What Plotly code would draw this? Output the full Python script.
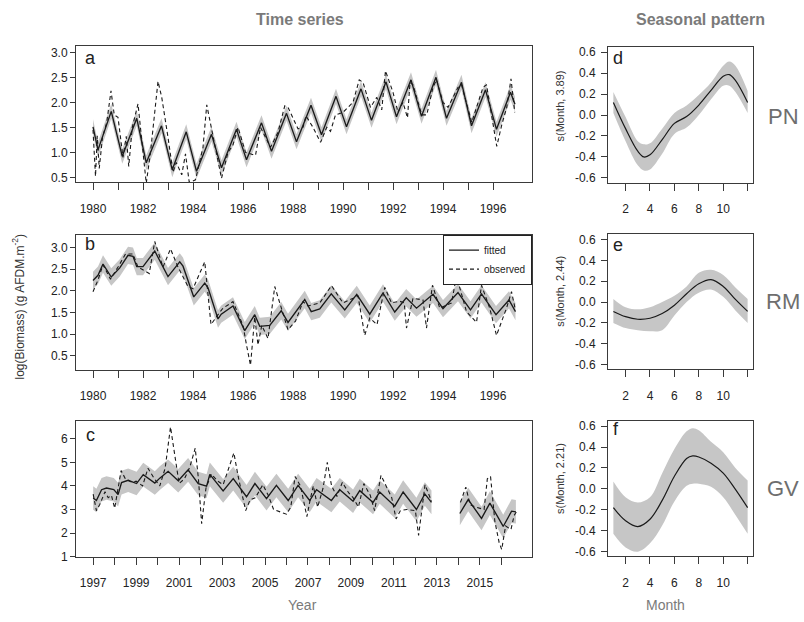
import plotly.graph_objects as go

# ---------------- data ----------------
# Panel a (PN) time series
a_fit_t = [1980.0, 1980.2, 1980.73, 1981.17, 1981.75, 1982.13, 1982.74, 1983.17, 1983.73, 1984.14,
           1984.74, 1985.14, 1985.74, 1986.14, 1986.74, 1987.14, 1987.74, 1988.14, 1988.72, 1989.14,
           1989.72, 1990.14, 1990.72, 1991.14, 1991.72, 1992.14, 1992.72, 1993.14, 1993.72, 1994.14,
           1994.74, 1995.14, 1995.7, 1996.14, 1996.7, 1996.88]
a_fit_v = [1.51, 1.05, 1.82, 0.92, 1.68, 0.79, 1.53, 0.65, 1.41, 0.62,
           1.36, 0.69, 1.46, 0.85, 1.59, 1.02, 1.78, 1.21, 1.94, 1.35,
           2.12, 1.51, 2.27, 1.64, 2.41, 1.71, 2.45, 1.72, 2.50, 1.68,
           2.40, 1.53, 2.25, 1.46, 2.20, 1.96]
a_obs_t = [1980.0, 1980.1, 1980.17, 1980.25, 1980.38, 1980.55, 1980.72, 1980.85, 1981.0, 1981.2,
           1981.33, 1981.43, 1981.57, 1981.8, 1982.13, 1982.3, 1982.6, 1982.75, 1983.0, 1983.2,
           1983.33, 1983.55, 1983.7, 1983.85, 1984.1, 1984.4, 1984.55, 1984.8, 1985.14, 1985.4,
           1985.6, 1985.8, 1986.1, 1986.5, 1986.7, 1987.1, 1987.4, 1987.67, 1987.8, 1988.2,
           1988.4, 1988.52, 1988.8, 1989.1, 1989.35, 1989.5, 1989.7, 1990.0, 1990.4, 1990.65,
           1990.8, 1991.1, 1991.35, 1991.55, 1991.7, 1992.0, 1992.2, 1992.4, 1992.58, 1992.68,
           1992.8, 1993.15, 1993.35, 1993.6, 1993.74, 1994.0, 1994.2, 1994.6, 1994.74, 1995.15,
           1995.6, 1995.74, 1996.15, 1996.35, 1996.55, 1996.72, 1996.87]
a_obs_v = [1.45, 0.52, 1.33, 0.68, 1.3, 1.6, 2.23, 1.75, 1.7, 0.9,
           1.32, 0.72, 1.5, 1.97, 0.38, 1.0, 2.42, 2.1, 1.3, 0.6,
           0.8, 0.55, 0.97, 0.4, 0.45, 1.1, 1.95, 1.3, 0.48, 1.0,
           1.15, 1.5, 1.0, 0.94, 1.5, 1.1, 1.4, 1.93, 1.9, 1.47,
           1.5, 1.73, 1.5, 1.2, 1.5, 1.42, 1.75, 1.8, 2.0, 2.45,
           2.4, 1.9, 2.1, 1.85, 2.63, 2.2, 1.8, 2.0, 1.69, 2.4,
           2.35, 1.75, 1.75, 2.3, 2.45, 2.0, 1.9, 2.3, 2.35, 1.6,
           2.3, 2.35, 1.12, 1.55, 1.9, 2.47, 1.8]
a_halfwidth = 0.15

# Panel b (RM) time series
b_fit_t = [1980.0, 1980.2, 1980.4, 1980.73, 1981.07, 1981.4, 1981.6, 1981.75, 1982.0, 1982.47,
           1983.0, 1983.47, 1983.6, 1984.03, 1984.47, 1984.6, 1985.0, 1985.13, 1985.6, 1986.07,
           1986.47, 1986.67, 1987.07, 1987.53, 1987.8, 1988.47, 1988.73, 1989.07, 1989.53, 1990.07,
           1990.55, 1991.07, 1991.6, 1992.07, 1992.53, 1992.94, 1993.6, 1994.0, 1994.6, 1995.1,
           1995.54, 1996.12, 1996.64, 1996.9]
b_fit_v = [2.24, 2.36, 2.62, 2.32, 2.53, 2.82, 2.80, 2.56, 2.56, 2.92,
           2.33, 2.67, 2.57, 1.86, 2.18, 2.07, 1.35, 1.46, 1.65, 1.08,
           1.45, 1.18, 1.20, 1.54, 1.27, 1.80, 1.52, 1.58, 1.93, 1.56,
           1.92, 1.46, 1.95, 1.51, 1.84, 1.60, 1.92, 1.59, 1.96, 1.56,
           1.93, 1.45, 1.79, 1.52]
b_obs_t = [1980.0, 1980.2, 1980.4, 1980.7, 1981.0, 1981.3, 1981.6, 1981.8, 1982.1, 1982.25,
           1982.47, 1982.8, 1983.1, 1983.4, 1983.8, 1984.0, 1984.47, 1984.72, 1985.0, 1985.2,
           1985.6, 1986.0, 1986.15, 1986.3, 1986.47, 1986.6, 1986.75, 1987.0, 1987.27, 1987.6,
           1987.8, 1988.1, 1988.4, 1988.6, 1989.07, 1989.54, 1990.0, 1990.6, 1990.87, 1991.07,
           1991.36, 1991.67, 1991.94, 1992.27, 1992.45, 1992.54, 1992.8, 1993.2, 1993.34, 1993.58,
           1993.87, 1994.34, 1994.54, 1994.94, 1995.34, 1995.54, 1995.87, 1996.14, 1996.54, 1996.74,
           1996.9]
b_obs_v = [1.98, 2.25, 2.6, 2.27, 2.55, 2.85, 2.85, 2.55, 2.45, 2.4,
           3.14, 2.55, 2.97, 2.55, 2.1, 2.05, 2.67, 1.22, 1.45, 1.6,
           1.75, 1.2, 0.72, 0.28, 1.4, 0.75, 1.2, 0.9, 2.1, 1.5,
           1.1, 1.3, 1.75, 1.65, 1.72, 2.12, 1.72, 1.88, 0.97, 1.37,
           1.22, 2.08, 1.72, 1.76, 1.72, 1.14, 1.83, 1.79, 1.14, 2.13,
           1.6, 1.72, 2.34, 1.52, 1.27, 2.13, 1.6, 0.97, 1.6, 1.98,
           1.55]
b_halfwidth = 0.2

# Panel c (GV) time series (None = sampling gap)
c_fit_t = [1997.0, 1997.15, 1997.39, 1997.62, 1997.96, 1998.16, 1998.32, 1998.63, 1999.02, 1999.33,
           1999.87, 2000.1, 2000.49, 2000.96, 2001.42, 2001.89, 2002.28, 2002.43, 2003.05, 2003.52,
           2004.14, 2004.53, 2005.07, 2005.53, 2006.08, 2006.54, 2007.08, 2007.4, 2008.09, 2008.48,
           2009.1, 2009.41, 2010.03, 2010.34, 2011.04, 2011.43, 2012.05, 2012.44, 2012.75, None,
           2014.07, 2014.46, 2015.08, 2015.47, 2016.09, 2016.48, 2016.68]
c_fit_v = [3.49, 3.38, 3.84, 3.91, 3.84, 3.63, 4.14, 4.24, 4.10, 4.48,
           4.12, 4.33, 4.62, 4.22, 4.68, 4.10, 3.99, 4.49, 3.79, 4.31,
           3.54, 4.10, 3.46, 4.02, 3.38, 4.02, 3.38, 3.84, 3.38, 3.84,
           3.35, 3.80, 3.30, 3.74, 3.14, 3.74, 3.00, 3.66, 3.30, None,
           2.83, 3.42, 2.62, 3.27, 2.28, 2.93, 2.90]
c_obs_t = [1997.0, 1997.15, 1997.3, 1997.55, 1997.7, 1997.85, 1998.0, 1998.3, 1998.5, 1998.8,
           1999.0, 1999.3, 1999.55, 1999.85, 2000.1, 2000.35, 2000.6, 2000.8, 2001.0, 2001.25,
           2001.5, 2001.75, 2001.9, 2002.05, 2002.25, 2002.5, 2002.8, 2003.05, 2003.35, 2003.55,
           2003.75, 2004.1, 2004.3, 2004.55, 2004.9, 2005.15, 2005.4, 2005.7, 2006.0, 2006.2,
           2006.4, 2006.65, 2006.95, 2007.1, 2007.25, 2007.45, 2007.7, 2007.9, 2008.1, 2008.35,
           2008.6, 2008.9, 2009.1, 2009.35, 2009.6, 2009.9, 2010.1, 2010.4, 2010.65, 2010.9,
           2011.1, 2011.3, 2011.6, 2012.0, 2012.15, 2012.3, 2012.45, 2012.75, None,
           2014.1, 2014.35, 2014.55, 2014.8, 2015.2, 2015.35, 2015.5, 2015.7, 2015.9, 2016.02,
           2016.2, 2016.45, 2016.6, 2016.7]
c_obs_v = [3.65, 2.95, 3.2, 3.75, 3.5, 3.6, 3.05, 4.65, 4.3, 4.15,
           4.2, 4.0, 4.75, 4.3, 4.0, 4.75, 6.5, 5.3, 4.1, 4.3,
           4.8, 5.6, 4.3, 2.4, 3.9, 4.5, 4.2, 4.05, 4.9, 5.4,
           4.4, 2.95, 3.4, 3.5, 4.05, 3.6, 3.0, 2.9, 2.8, 3.1,
           4.4, 4.0, 2.7, 3.4, 4.0, 3.1, 3.9, 5.0, 4.0, 3.55,
           4.15, 3.7, 3.5, 3.1, 4.1, 3.6, 2.95, 4.45, 4.0, 3.5,
           2.6, 2.95, 3.0, 2.95, 1.9, 3.1, 4.05, 3.35, None,
           3.3, 3.95, 3.2, 3.1, 3.0, 4.3, 4.4, 2.5, 1.6, 1.3,
           2.3, 2.15, 2.75, 2.9]
c_halfwidth = 0.5

# Seasonal smooths
d_month = [1, 2, 3, 3.5, 4, 5, 6, 7, 8, 9, 10, 10.5, 11, 12]
d_fit = [0.12, -0.13, -0.345, -0.40, -0.38, -0.235, -0.08, -0.015, 0.095, 0.235, 0.37, 0.385, 0.33, 0.12]
d_up = [0.22, -0.02, -0.25, -0.28, -0.27, -0.13, 0.02, 0.09, 0.19, 0.31, 0.47, 0.51, 0.47, 0.23]
d_lo = [0.02, -0.25, -0.48, -0.53, -0.52, -0.37, -0.18, -0.12, 0.0, 0.15, 0.28, 0.28, 0.22, 0.02]

e_month = [1, 2, 3, 4, 5, 6, 7, 8, 9, 10, 11, 12]
e_fit = [-0.09, -0.14, -0.165, -0.155, -0.11, -0.03, 0.08, 0.175, 0.215, 0.15, 0.025, -0.09]
e_up = [0.03, -0.05, -0.07, -0.05, 0.0, 0.06, 0.15, 0.28, 0.31, 0.26, 0.14, 0.03]
e_lo = [-0.2, -0.25, -0.27, -0.28, -0.27, -0.13, 0.0, 0.09, 0.12, 0.05, -0.08, -0.2]

f_month = [1, 2, 3, 4, 5, 6, 7, 7.5, 8, 9, 10, 11, 12]
f_fit = [-0.18, -0.305, -0.36, -0.29, -0.11, 0.12, 0.29, 0.315, 0.305, 0.245, 0.15, -0.005, -0.18]
f_up = [0.07, -0.08, -0.13, -0.08, 0.15, 0.38, 0.55, 0.58, 0.56, 0.45, 0.35, 0.2, 0.08]
f_lo = [-0.43, -0.56, -0.6, -0.52, -0.35, -0.12, 0.03, 0.05, 0.05, 0.02, -0.08, -0.25, -0.43]

edf_labels = ["s(Month, 3.89)", "s(Month, 2.44)", "s(Month, 2.21)"]
site_labels = ["PN", "RM", "GV"]
panel_letters = ["a", "b", "c", "d", "e", "f"]

# ---------------- style ----------------
FONT = "Liberation Sans, Arial, Helvetica, sans-serif"
BAND = "#c6c6c6"
LINE = "#1a1a1a"
AX = "#3a3a3a"
TXT = "#222222"
GREY = "#7a7a7a"
W, H = 804, 622


def px_x(p):
    return p / W


def px_y(p):
    return 1 - p / H


fig = go.Figure()


def segments(t, v):
    segs, ct, cv = [], [], []
    for a, b in zip(t, v):
        if a is None:
            if ct:
                segs.append((ct, cv))
            ct, cv = [], []
        else:
            ct.append(a)
            cv.append(b)
    if ct:
        segs.append((ct, cv))
    return segs


def add_ts(t_fit, v_fit, t_obs, v_obs, hw, xa, ya, legend=False):
    for st, sv in segments(t_fit, v_fit):
        fig.add_trace(go.Scatter(x=st, y=[v - hw for v in sv], mode="lines", line=dict(width=0),
                                 showlegend=False, hoverinfo="skip", xaxis=xa, yaxis=ya))
        fig.add_trace(go.Scatter(x=st, y=[v + hw for v in sv], mode="lines", line=dict(width=0),
                                 fill="tonexty", fillcolor=BAND, showlegend=False, hoverinfo="skip",
                                 xaxis=xa, yaxis=ya))
    fig.add_trace(go.Scatter(x=t_obs, y=v_obs, mode="lines", name="observed",
                             line=dict(color=LINE, width=1.1, dash="4px,3px"),
                             showlegend=legend, legendrank=2, xaxis=xa, yaxis=ya))
    fig.add_trace(go.Scatter(x=t_fit, y=v_fit, mode="lines", name="fitted",
                             line=dict(color=LINE, width=1.35),
                             showlegend=legend, legendrank=1, xaxis=xa, yaxis=ya))


def add_season(m, fit, up, lo, xa, ya):
    fig.add_trace(go.Scatter(x=m, y=lo, mode="lines", line=dict(width=0, shape="spline"),
                             showlegend=False, hoverinfo="skip", xaxis=xa, yaxis=ya))
    fig.add_trace(go.Scatter(x=m, y=up, mode="lines", line=dict(width=0, shape="spline"),
                             fill="tonexty", fillcolor=BAND, showlegend=False, hoverinfo="skip",
                             xaxis=xa, yaxis=ya))
    fig.add_trace(go.Scatter(x=m, y=fit, mode="lines", line=dict(color=LINE, width=1.2, shape="spline"),
                             showlegend=False, xaxis=xa, yaxis=ya))


add_ts(a_fit_t, a_fit_v, a_obs_t, a_obs_v, a_halfwidth, "x", "y")
add_ts(b_fit_t, b_fit_v, b_obs_t, b_obs_v, b_halfwidth, "x2", "y2", legend=True)
add_ts(c_fit_t, c_fit_v, c_obs_t, c_obs_v, c_halfwidth, "x3", "y3")
add_season(d_month, d_fit, d_up, d_lo, "x4", "y4")
add_season(e_month, e_fit, e_up, e_lo, "x5", "y5")
add_season(f_month, f_fit, f_up, f_lo, "x6", "y6")

# ---------------- axes ----------------
left_x = [px_x(76), px_x(532)]
right_x = [px_x(608), px_x(753)]
rows = [(45, 183), (236, 373), (425, 563)]
rows_r = [(45.5, 183.3), (235.7, 372.7), (425, 562.5)]

tick_font = dict(family=FONT, size=12, color=TXT)


def xax(domain, anchor, rng, vals, text):
    return dict(domain=domain, anchor=anchor, range=rng, tickvals=vals, ticktext=text,
                showline=True, mirror=True, linecolor=AX, linewidth=1, ticks="outside",
                ticklen=7, tickcolor=AX, tickwidth=1, showgrid=False, zeroline=False,
                tickfont=tick_font, ticklabelstandoff=8, fixedrange=True)


def yax(domain, anchor, rng, vals, text, tl=5, so=0):
    return dict(domain=domain, anchor=anchor, range=rng, tickvals=vals, ticktext=text,
                showline=True, mirror=True, linecolor=AX, linewidth=1, ticks="outside",
                ticklen=tl, tickcolor=AX, tickwidth=1, showgrid=False, zeroline=False,
                tickfont=tick_font, ticklabelstandoff=so, fixedrange=True)


yrs_ab = list(range(1980, 1997))
yrs_ab_txt = [str(y) if y % 2 == 0 else "" for y in yrs_ab]
yrs_c = list(range(1997, 2017))
yrs_c_txt = [str(y) if y % 2 == 1 else "" for y in yrs_c]
y_ab = [0.5, 1.0, 1.5, 2.0, 2.5, 3.0]
y_ab_txt = ["0.5", "1.0", "1.5", "2.0", "2.5", "3.0"]
y_c = [1, 2, 3, 4, 5, 6]
y_c_txt = ["1", "2", "3", "4", "5", "6"]
m_ticks = [2, 4, 6, 8, 10, 12]
m_txt = ["2", "4", "6", "8", "10", ""]
s_ticks = [-0.6, -0.4, -0.2, 0.0, 0.2, 0.4, 0.6]
s_txt = ["-0.6", "-0.4", "-0.2", "0.0", "0.2", "0.4", "0.6"]

layout = dict(
    width=W, height=H, margin=dict(l=0, r=0, t=0, b=0),
    paper_bgcolor="white", plot_bgcolor="white",
    font=dict(family=FONT, color=TXT),
    xaxis=xax(left_x, "y", [1979.32, 1997.56], yrs_ab, yrs_ab_txt),
    yaxis=yax([px_y(rows[0][1]), px_y(rows[0][0])], "x", [0.4, 3.12], y_ab, y_ab_txt),
    xaxis2=xax(left_x, "y2", [1979.32, 1997.56], yrs_ab, yrs_ab_txt),
    yaxis2=yax([px_y(rows[1][1]), px_y(rows[1][0])], "x2", [0.18, 3.30], y_ab, y_ab_txt),
    xaxis3=xax(left_x, "y3", [1996.2, 2017.43], yrs_c, yrs_c_txt),
    yaxis3=yax([px_y(rows[2][1]), px_y(rows[2][0])], "x3", [0.99, 6.76], y_c, y_c_txt),
    xaxis4=xax(right_x, "y4", [0.56, 12.44], m_ticks, m_txt),
    yaxis4=yax([px_y(rows_r[0][1]), px_y(rows_r[0][0])], "x4", [-0.645, 0.65], s_ticks, s_txt, 6, 3),
    xaxis5=xax(right_x, "y5", [0.56, 12.44], m_ticks, m_txt),
    yaxis5=yax([px_y(rows_r[1][1]), px_y(rows_r[1][0])], "x5", [-0.645, 0.65], s_ticks, s_txt, 6, 3),
    xaxis6=xax(right_x, "y6", [0.56, 12.44], m_ticks, m_txt),
    yaxis6=yax([px_y(rows_r[2][1]), px_y(rows_r[2][0])], "x6", [-0.645, 0.65], s_ticks, s_txt, 6, 3),
    showlegend=True,
    legend=dict(x=px_x(532), xanchor="right", y=px_y(236), yanchor="top",
                bgcolor="white", bordercolor="#222", borderwidth=1,
                font=dict(family=FONT, size=10, color=TXT), itemwidth=30,
                tracegroupgap=0, traceorder="normal"),
)
fig.update_layout(**layout)

ann = []


def text(x, y, s, size, color=TXT, bold=False, angle=0, xanchor="center"):
    ann.append(dict(x=px_x(x), y=px_y(y), xref="paper", yref="paper", text=("<b>%s</b>" % s) if bold else s,
                    showarrow=False, xanchor=xanchor, yanchor="middle", textangle=angle,
                    font=dict(family=FONT, size=size, color=color)))


text(300, 18, "Time series", 16, GREY, bold=True)
text(700, 18, "Seasonal pattern", 16, GREY, bold=True)
text(302, 612, "Year", 14, GREY)
text(665, 612, "Month", 14, GREY)
text(18, 310, "log(Biomass) (g AFDM.m<sup>-2</sup>)", 12, "#333", angle=-90)
for lab, yy in zip(edf_labels, [106, 294, 484]):
    text(560, yy, lab, 11, "#333", angle=-90)
for lab, yy in zip(site_labels, [116, 304, 494]):
    text(783, yy, lab, 22, "#6e6e6e")
for lab, (xx, yy) in zip(panel_letters, [(90, 57), (90, 246), (90, 439), (618, 57), (618, 247), (616, 433)]):
    text(xx, yy, lab, 18, TXT)
fig.update_layout(annotations=ann)

fig.write_html("out.html")
